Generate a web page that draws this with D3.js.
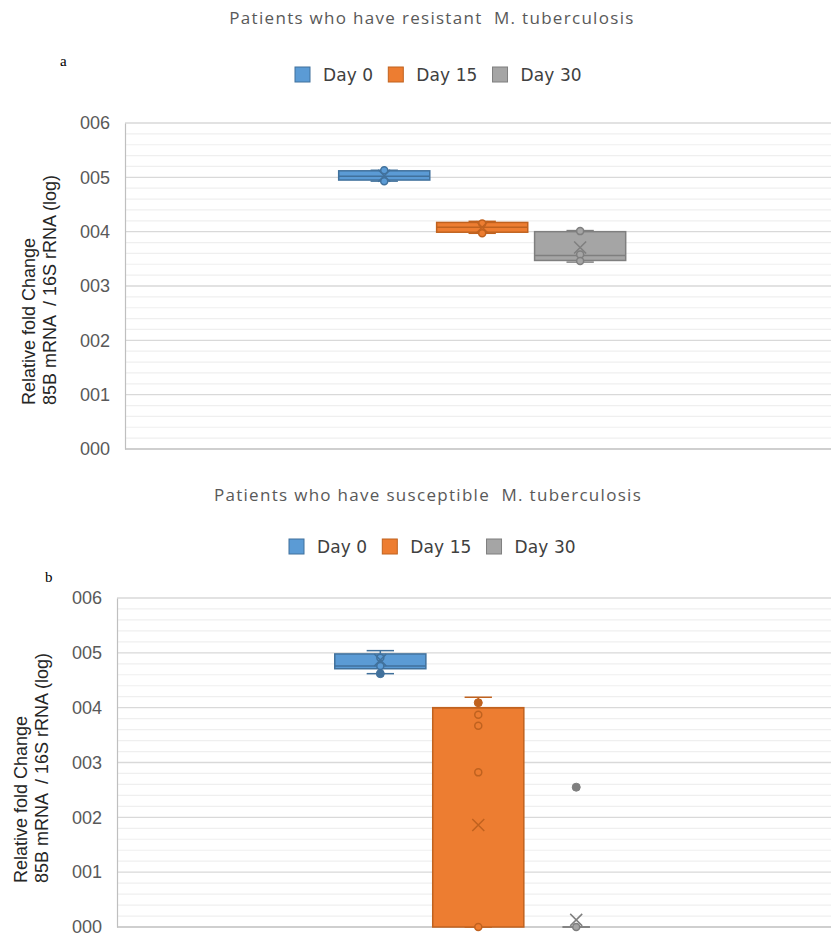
<!DOCTYPE html>
<html lang="en">
<head>
    <meta charset="UTF-8">
    <title>Relative fold change of 85B mRNA</title>
    <script src="https://d3js.org/d3.v7.min.js"></script>
    <style>
        body { margin: 0; background: #fff; }
        svg { display: block; }
        .title { font-family: "Open Sans", sans-serif; font-size: 17px; letter-spacing: 1.3px; fill: #595959; white-space: pre; }
        .legend text { font-family: "DejaVu Sans", sans-serif; font-size: 17px; letter-spacing: 0.1px; fill: #404040; }
        .tick-label { font-family: "Liberation Sans", Arial, sans-serif; font-size: 18px; fill: #595959; }
        .axis-title { font-family: "Liberation Sans", Arial, sans-serif; font-size: 18px; fill: #262626; white-space: pre; }
        .panel-letter { font-family: "Liberation Serif", serif; font-size: 15px; fill: #000; }
    </style>
</head>
<body>
<svg id="chart" width="831" height="937"></svg>
<script>
    // series and axis
    const series = ["Day 0", "Day 15", "Day 30"];
    const seriesColors = ["#5b9bd5", "#ed7d31", "#a5a5a5"];
    const seriesStrokes = ["#41719c", "#c0621f", "#7f7f7f"];
    const yTicks = [0, 1, 2, 3, 4, 5, 6];

    // (a) resistant M. tuberculosis
    const resistantMin = [4.93, 3.97, 3.44];
    const resistantQ1 = [4.95, 3.99, 3.47];
    const resistantMedian = [5.02, 4.08, 3.56];
    const resistantQ3 = [5.12, 4.17, 4.00];
    const resistantMax = [5.13, 4.19, 4.02];
    const resistantMean = [5.03, 4.08, 3.71];
    const resistantPoints = [[5.13, 4.93], [4.15, 3.97], [4.01, 3.58, 3.46]];
    const resistantOutliers = [[], [], []];

    // (b) susceptible M. tuberculosis
    const susceptibleMin = [4.62, 0, 0];
    const susceptibleQ1 = [4.71, 0, 0];
    const susceptibleMedian = [4.76, 4.0, 0];
    const susceptibleQ3 = [4.98, 4.0, 0];
    const susceptibleMax = [5.04, 4.19, 0];
    const susceptibleMean = [4.87, 1.86, 0.13];
    const susceptiblePoints = [[4.91, 4.76], [3.87, 3.67, 2.82, 0], [0]];
    const susceptibleOutliers = [[4.62], [4.09], [2.55]];

    const svg = d3.select('#chart');

    function drawPanel(cfg) {
        const g = svg.append('g');

        const y = d3.scaleLinear()
            .domain([0, 6])
            .range([cfg.bottom, cfg.top]);

        const groupWidth = 287;
        const plotWidth = cfg.right - cfg.left;
        const x0 = d3.scaleBand()
            .domain(['all'])
            .range([cfg.left, cfg.right])
            .paddingOuter((plotWidth / groupWidth - 1) / 2)
            .align(0.51);
        const x1 = d3.scaleBand()
            .domain(series)
            .range([0, x0.bandwidth()])
            .paddingInner(0.07);

        // gridlines: minor then major
        g.append('g')
            .selectAll('line')
            .data(y.ticks(30).filter(t => Math.abs(t - Math.round(t)) > 1e-6))
            .enter().append('line')
            .attr('x1', cfg.left).attr('x2', cfg.right)
            .attr('y1', d => y(d)).attr('y2', d => y(d))
            .attr('stroke', '#efefef').attr('stroke-width', 1.2);

        g.append('g')
            .selectAll('line')
            .data(yTicks.filter(t => t > 0))
            .enter().append('line')
            .attr('x1', cfg.left).attr('x2', cfg.right)
            .attr('y1', d => y(d)).attr('y2', d => y(d))
            .attr('stroke', '#d9d9d9').attr('stroke-width', 1.3);

        // y axis
        const yAxis = d3.axisLeft(y)
            .tickValues(yTicks)
            .tickFormat(d3.format('03d'))
            .tickSize(0)
            .tickPadding(15);
        const axisG = g.append('g')
            .attr('transform', `translate(${cfg.left},0)`)
            .call(yAxis);
        axisG.select('.domain').attr('stroke', '#bfbfbf').attr('stroke-width', 1.2);
        axisG.selectAll('text')
            .attr('class', 'tick-label')
            .attr('fill', null)
            .attr('font-size', null)
            .attr('font-family', null);

        // x axis line
        g.append('line')
            .attr('x1', cfg.left).attr('x2', cfg.right)
            .attr('y1', y(0)).attr('y2', y(0))
            .attr('stroke', '#bfbfbf').attr('stroke-width', 1.5);

        // boxes
        series.forEach((s, i) => {
            const bx = x0('all') + x1(s);
            const bw = x1.bandwidth();
            const cx = bx + bw / 2;
            const capW = bw * 0.3;
            const fill = seriesColors[i];
            const stroke = seriesStrokes[i];
            const box = g.append('g');

            // whiskers
            box.append('line')
                .attr('x1', cx).attr('x2', cx)
                .attr('y1', y(cfg.max[i])).attr('y2', y(cfg.q3[i]))
                .attr('stroke', stroke).attr('stroke-width', 1.5);
            box.append('line')
                .attr('x1', cx).attr('x2', cx)
                .attr('y1', y(cfg.q1[i])).attr('y2', y(cfg.min[i]))
                .attr('stroke', stroke).attr('stroke-width', 1.5);
            [cfg.max[i], cfg.min[i]].forEach(v => {
                box.append('line')
                    .attr('x1', cx - capW / 2).attr('x2', cx + capW / 2)
                    .attr('y1', y(v)).attr('y2', y(v))
                    .attr('stroke', stroke).attr('stroke-width', 1.5);
            });

            // a box with no height collapses onto its whisker caps
            if (cfg.q3[i] > cfg.q1[i]) {
                box.append('rect')
                    .attr('x', bx)
                    .attr('y', y(cfg.q3[i]))
                    .attr('width', bw)
                    .attr('height', y(cfg.q1[i]) - y(cfg.q3[i]))
                    .attr('fill', fill)
                    .attr('stroke', stroke)
                    .attr('stroke-width', 1.5);

                box.append('line')
                    .attr('x1', bx).attr('x2', bx + bw)
                    .attr('y1', y(cfg.median[i])).attr('y2', y(cfg.median[i]))
                    .attr('stroke', stroke).attr('stroke-width', 1.5);
            }

            // inner points (hollow) and outliers (filled)
            box.selectAll('circle.inner')
                .data(cfg.points[i])
                .enter().append('circle')
                .attr('class', 'inner')
                .attr('cx', cx).attr('cy', d => y(d)).attr('r', 3.5)
                .attr('fill', fill)
                .attr('stroke', stroke).attr('stroke-width', 1.5);
            box.selectAll('circle.outlier')
                .data(cfg.outliers[i])
                .enter().append('circle')
                .attr('class', 'outlier')
                .attr('cx', cx).attr('cy', d => y(d)).attr('r', 4)
                .attr('fill', stroke)
                .attr('stroke', stroke).attr('stroke-width', 1);

            // mean marker
            const my = y(cfg.mean[i]);
            const h = 6;
            box.append('path')
                .attr('d', `M${cx - h},${my - h}L${cx + h},${my + h}M${cx - h},${my + h}L${cx + h},${my - h}`)
                .attr('stroke', stroke).attr('stroke-width', 1.5)
                .attr('fill', 'none');
        });

        // title
        svg.append('text')
            .attr('class', 'title')
            .attr('x', cfg.titleX).attr('y', cfg.titleY)
            .attr('text-anchor', 'middle')
            .text(cfg.title);

        // legend
        const legend = svg.append('g').attr('class', 'legend');
        let lx = cfg.legendX;
        series.forEach((s, i) => {
            legend.append('rect')
                .attr('x', lx).attr('y', cfg.legendY - 7)
                .attr('width', 15).attr('height', 15)
                .attr('fill', seriesColors[i])
                .attr('stroke', seriesStrokes[i]).attr('stroke-width', 1);
            const t = legend.append('text')
                .attr('x', lx + 28).attr('y', cfg.legendY + 7)
                .text(s);
            lx += 28 + t.node().getComputedTextLength() + 15;
        });

        // y axis title, two lines
        svg.append('text')
            .attr('class', 'axis-title')
            .attr('transform', `translate(${cfg.yTitleX1},${cfg.yTitleStart}) rotate(-90)`)
            .text('Relative fold Change');
        svg.append('text')
            .attr('class', 'axis-title')
            .attr('transform', `translate(${cfg.yTitleX2},${cfg.yTitleStart}) rotate(-90)`)
            .text('85B mRNA  / 16S rRNA (log)');

        svg.append('text')
            .attr('class', 'panel-letter')
            .attr('x', cfg.letterX).attr('y', cfg.letterY)
            .text(cfg.letter);
    }

    drawPanel({
        title: 'Patients who have resistant  M. tuberculosis',
        letter: 'a', letterX: 60, letterY: 66,
        titleX: 432, titleY: 24,
        legendX: 295, legendY: 74,
        left: 125, right: 831, top: 123, bottom: 449,
        yTitleX1: 35, yTitleX2: 56, yTitleStart: 405,
        min: resistantMin, q1: resistantQ1, median: resistantMedian,
        q3: resistantQ3, max: resistantMax, mean: resistantMean,
        points: resistantPoints, outliers: resistantOutliers
    });

    drawPanel({
        title: 'Patients who have susceptible  M. tuberculosis',
        letter: 'b', letterX: 45, letterY: 582,
        titleX: 428, titleY: 501,
        legendX: 289, legendY: 546,
        left: 117, right: 831, top: 598, bottom: 927,
        yTitleX1: 27, yTitleX2: 48, yTitleStart: 883,
        min: susceptibleMin, q1: susceptibleQ1, median: susceptibleMedian,
        q3: susceptibleQ3, max: susceptibleMax, mean: susceptibleMean,
        points: susceptiblePoints, outliers: susceptibleOutliers
    });
</script>
</body>
</html>
